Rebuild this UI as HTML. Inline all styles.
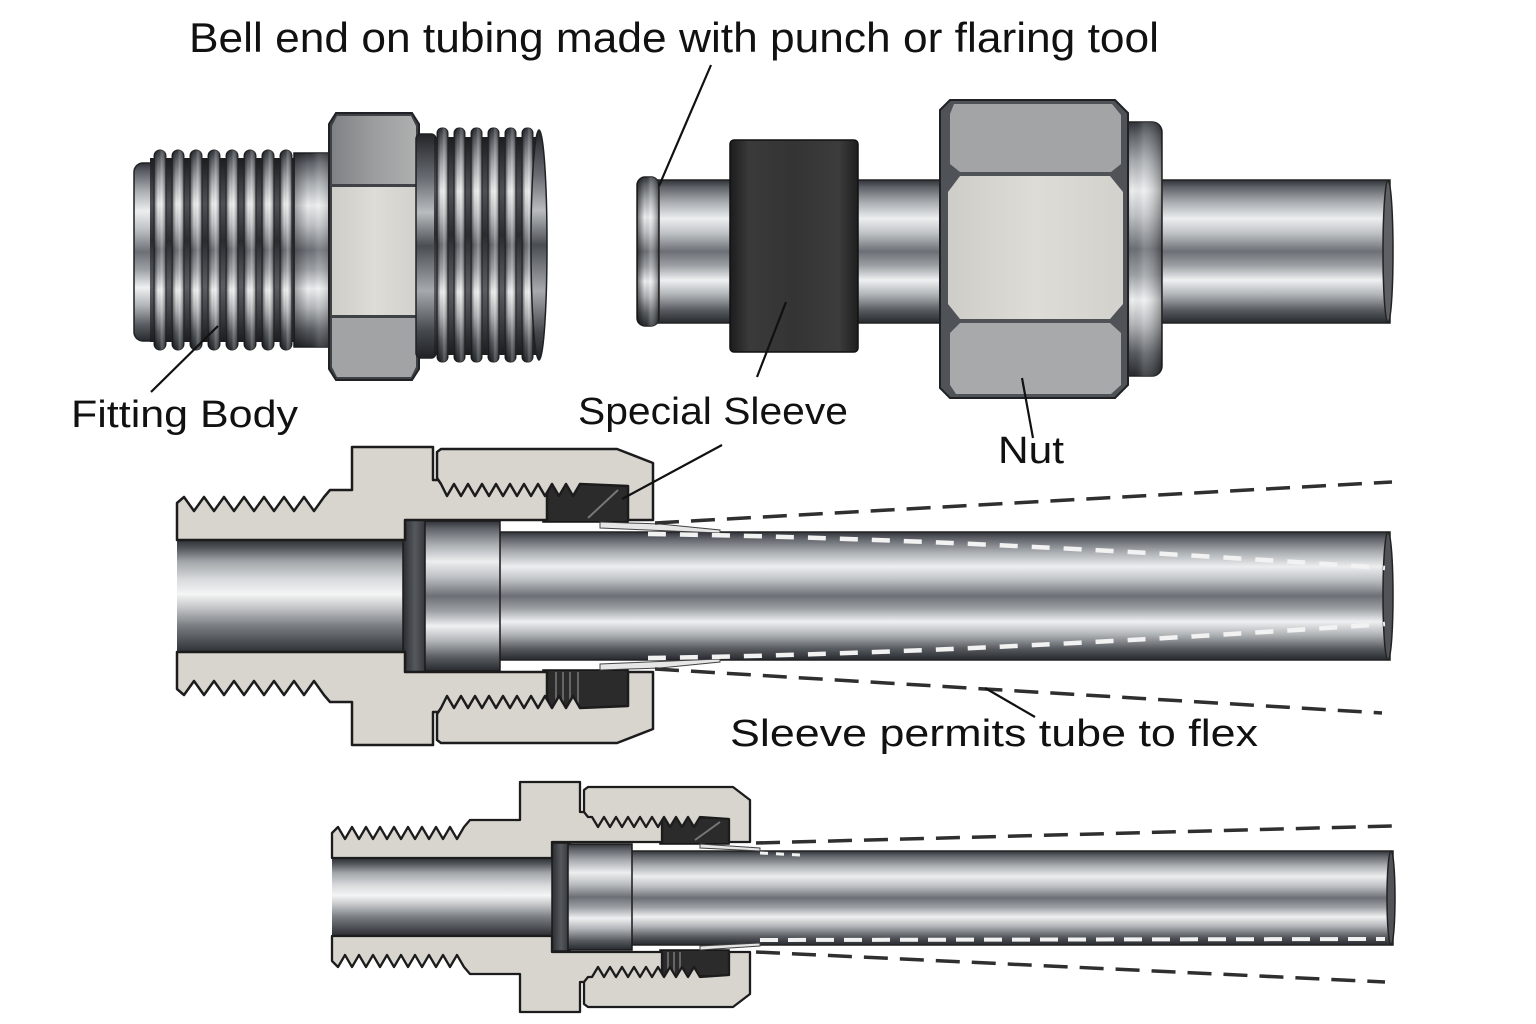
<!DOCTYPE html>
<html>
<head>
<meta charset="utf-8">
<style>
html,body{margin:0;padding:0;background:#fff;}
svg{display:block;}
text{font-family:"Liberation Sans",Arial,sans-serif;fill:#111;}
</style>
</head>
<body>
<svg width="1536" height="1024" viewBox="0 0 1536 1024" xmlns="http://www.w3.org/2000/svg">
<defs>
  <linearGradient id="cyl" x1="0" y1="0" x2="0" y2="1">
    <stop offset="0" stop-color="#2f3237"/>
    <stop offset="0.05" stop-color="#5e6268"/>
    <stop offset="0.15" stop-color="#a5a9ad"/>
    <stop offset="0.27" stop-color="#eceeef"/>
    <stop offset="0.37" stop-color="#c0c3c6"/>
    <stop offset="0.5" stop-color="#6c7076"/>
    <stop offset="0.6" stop-color="#9da1a5"/>
    <stop offset="0.7" stop-color="#eef0f1"/>
    <stop offset="0.8" stop-color="#b2b5b8"/>
    <stop offset="0.91" stop-color="#585c61"/>
    <stop offset="1" stop-color="#26292d"/>
  </linearGradient>
  <linearGradient id="cylD" x1="0" y1="0" x2="0" y2="1">
    <stop offset="0" stop-color="#222428"/>
    <stop offset="0.2" stop-color="#6a6e74"/>
    <stop offset="0.35" stop-color="#b9bcbf"/>
    <stop offset="0.5" stop-color="#4a4e53"/>
    <stop offset="0.7" stop-color="#a6a9ad"/>
    <stop offset="0.88" stop-color="#45494e"/>
    <stop offset="1" stop-color="#1f2125"/>
  </linearGradient>
  <linearGradient id="groove" x1="0" y1="0" x2="0" y2="1">
    <stop offset="0" stop-color="#1b1d20"/>
    <stop offset="0.25" stop-color="#4d5156"/>
    <stop offset="0.45" stop-color="#2a2c30"/>
    <stop offset="0.7" stop-color="#5a5e63"/>
    <stop offset="1" stop-color="#1b1d20"/>
  </linearGradient>
  <linearGradient id="crestH" x1="0" y1="0" x2="1" y2="0">
    <stop offset="0" stop-color="#000" stop-opacity="0.55"/>
    <stop offset="0.35" stop-color="#000" stop-opacity="0"/>
    <stop offset="0.6" stop-color="#fff" stop-opacity="0.2"/>
    <stop offset="1" stop-color="#000" stop-opacity="0.5"/>
  </linearGradient>
  <linearGradient id="bore" x1="0" y1="0" x2="0" y2="1">
    <stop offset="0" stop-color="#25282c"/>
    <stop offset="0.08" stop-color="#4f5358"/>
    <stop offset="0.2" stop-color="#a2a6aa"/>
    <stop offset="0.35" stop-color="#d7d9db"/>
    <stop offset="0.48" stop-color="#f4f5f5"/>
    <stop offset="0.6" stop-color="#c2c4c6"/>
    <stop offset="0.75" stop-color="#7a7e83"/>
    <stop offset="0.9" stop-color="#474b50"/>
    <stop offset="1" stop-color="#25282c"/>
  </linearGradient>
  <linearGradient id="sleeveG" x1="0" y1="0" x2="1" y2="0">
    <stop offset="0" stop-color="#1c1c1d"/>
    <stop offset="0.15" stop-color="#3a3a3b"/>
    <stop offset="0.5" stop-color="#343435"/>
    <stop offset="0.85" stop-color="#3c3c3d"/>
    <stop offset="1" stop-color="#1e1e1f"/>
  </linearGradient>
  <linearGradient id="hexTop" x1="0" y1="0" x2="1" y2="0">
    <stop offset="0" stop-color="#7f8285"/>
    <stop offset="0.5" stop-color="#9c9d9e"/>
    <stop offset="1" stop-color="#aeafaf"/>
  </linearGradient>
  <linearGradient id="hexMid" x1="0" y1="0" x2="1" y2="0">
    <stop offset="0" stop-color="#cfcdc8"/>
    <stop offset="0.5" stop-color="#dedcd7"/>
    <stop offset="1" stop-color="#d3d1cc"/>
  </linearGradient>
  <linearGradient id="bevel" x1="0" y1="0" x2="1" y2="0">
    <stop offset="0" stop-color="#2a2c30"/>
    <stop offset="0.5" stop-color="#55595e"/>
    <stop offset="1" stop-color="#2e3034"/>
  </linearGradient>
</defs>

<rect width="1536" height="1024" fill="#fff"/>

<!-- ============ TOP LEFT: FITTING BODY ============ -->
<g>
  <rect x="134" y="163" width="26" height="178" rx="9" fill="url(#cyl)" stroke="#1f2124" stroke-width="1.5"/>
  <rect x="150" y="158" width="148" height="184" fill="url(#groove)"/>
  <g stroke="#202226" stroke-width="1">
    <rect x="154" y="150" width="12" height="200" rx="6" fill="url(#cyl)"/>
    <rect x="172" y="150" width="12" height="200" rx="6" fill="url(#cyl)"/>
    <rect x="190" y="150" width="12" height="200" rx="6" fill="url(#cyl)"/>
    <rect x="208" y="150" width="12" height="200" rx="6" fill="url(#cyl)"/>
    <rect x="226" y="150" width="12" height="200" rx="6" fill="url(#cyl)"/>
    <rect x="244" y="150" width="12" height="200" rx="6" fill="url(#cyl)"/>
    <rect x="262" y="150" width="12" height="200" rx="6" fill="url(#cyl)"/>
    <rect x="280" y="150" width="12" height="200" rx="6" fill="url(#cyl)"/>
  </g>
  <g fill="url(#crestH)">
    <rect x="154" y="150" width="12" height="200" rx="6"/>
    <rect x="172" y="150" width="12" height="200" rx="6"/>
    <rect x="190" y="150" width="12" height="200" rx="6"/>
    <rect x="208" y="150" width="12" height="200" rx="6"/>
    <rect x="226" y="150" width="12" height="200" rx="6"/>
    <rect x="244" y="150" width="12" height="200" rx="6"/>
    <rect x="262" y="150" width="12" height="200" rx="6"/>
    <rect x="280" y="150" width="12" height="200" rx="6"/>
  </g>
  <rect x="294" y="153" width="40" height="194" fill="url(#cyl)" stroke="#1f2124" stroke-width="1.5"/>
  <rect x="294" y="153" width="40" height="194" fill="url(#crestH)" opacity="0.6"/>
  <!-- hex -->
  <polygon points="336,113 412,113 419,124 419,369 412,380 336,380 329,369 329,124" fill="#3e4145" stroke="#1f2124" stroke-width="2"/>
  <polygon points="337,116 411,116 416,126 416,184 332,184 332,126" fill="url(#hexTop)"/>
  <rect x="332" y="187" width="84" height="128" fill="url(#hexMid)"/>
  <polygon points="332,318 416,318 416,367 411,377 337,377 332,367" fill="#a2a3a4"/>
  <!-- right threads -->
  <rect x="416" y="134" width="20" height="224" rx="5" fill="url(#cylD)" stroke="#1f2124" stroke-width="1.5"/>
  <rect x="434" y="137" width="106" height="218" fill="url(#groove)"/>
  <g stroke="#202226" stroke-width="1">
    <rect x="437" y="128" width="11" height="234" rx="5" fill="url(#cyl)"/>
    <rect x="454" y="128" width="11" height="234" rx="5" fill="url(#cyl)"/>
    <rect x="471" y="128" width="11" height="234" rx="5" fill="url(#cyl)"/>
    <rect x="488" y="128" width="11" height="234" rx="5" fill="url(#cyl)"/>
    <rect x="505" y="128" width="11" height="234" rx="5" fill="url(#cyl)"/>
    <rect x="522" y="128" width="11" height="234" rx="5" fill="url(#cyl)"/>
  </g>
  <g fill="url(#crestH)">
    <rect x="437" y="128" width="11" height="234" rx="5"/>
    <rect x="454" y="128" width="11" height="234" rx="5"/>
    <rect x="471" y="128" width="11" height="234" rx="5"/>
    <rect x="488" y="128" width="11" height="234" rx="5"/>
    <rect x="505" y="128" width="11" height="234" rx="5"/>
    <rect x="522" y="128" width="11" height="234" rx="5"/>
  </g>
  <ellipse cx="539" cy="245" rx="8" ry="115" fill="url(#cylD)" stroke="#1f2124" stroke-width="1.5"/>
</g>

<!-- ============ TOP RIGHT: TUBE + SLEEVE + NUT ============ -->
<g>
  <rect x="652" y="180" width="738" height="143" fill="url(#cyl)" stroke="#222" stroke-width="1.5"/>
  <ellipse cx="1388" cy="251.5" rx="5" ry="71" fill="#5d6166" stroke="#222" stroke-width="1.5"/>
  <rect x="637" y="177" width="22" height="149" rx="8" fill="url(#cyl)" stroke="#222" stroke-width="1.5"/>
  <rect x="637" y="177" width="22" height="149" rx="8" fill="url(#crestH)"/>
  <rect x="730" y="140" width="128" height="212" rx="4" fill="url(#sleeveG)" stroke="#111" stroke-width="1.5"/>
  <rect x="1116" y="122" width="46" height="254" rx="10" fill="url(#cyl)" stroke="#222" stroke-width="1.5"/>
  <rect x="1116" y="122" width="46" height="254" rx="10" fill="url(#crestH)" opacity="0.7"/>
  <!-- nut -->
  <polygon points="940,110 950,100 1115,100 1128,113 1128,385 1115,398 950,398 940,388" fill="#4f5256" stroke="#1f2124" stroke-width="2"/>
  <polygon points="954,104 1112,104 1121,115 1121,164 1111,172 960,172 950,164 950,114" fill="#a3a4a5"/>
  <polygon points="960,176 1110,176 1123,192 1123,304 1110,319 960,319 948,304 948,192" fill="url(#hexMid)"/>
  <polygon points="960,323 1110,323 1121,333 1121,385 1111,394 956,394 950,385 950,333" fill="#a8a9aa"/>
</g>

<!-- ============ MIDDLE CROSS SECTION ============ -->
<g>
  <rect x="177" y="538" width="232" height="117" fill="url(#bore)"/>
  <rect x="498" y="532" width="892" height="128" fill="url(#cyl)" stroke="#222" stroke-width="1.5"/>
  <ellipse cx="1388" cy="596" rx="5" ry="64" fill="#505459" stroke="#222" stroke-width="1.5"/>
  <!-- bell ring -->
  <rect x="403" y="520" width="24" height="152" fill="url(#bevel)" stroke="#1a1a1a" stroke-width="1.5"/>
  <rect x="425" y="521" width="75" height="150" fill="url(#cyl)" stroke="#1a1a1a" stroke-width="1.5"/>
  <!-- sleeves -->
  <rect x="543" y="484" width="85" height="38" fill="#2b2b2c" stroke="#111" stroke-width="1.5"/>
  <line x1="588" y1="518" x2="618" y2="490" stroke="#777" stroke-width="2"/>
  <rect x="543" y="670" width="85" height="38" fill="#2b2b2c" stroke="#111" stroke-width="1.5"/>
  <g stroke="#666" stroke-width="2">
    <line x1="556" y1="672" x2="556" y2="706"/>
    <line x1="563" y1="672" x2="563" y2="706"/>
    <line x1="570" y1="672" x2="570" y2="706"/>
    <line x1="578" y1="672" x2="578" y2="706"/>
  </g>
  <!-- thin sleeve tails -->
  <polygon points="600,522 660,524 720,530 720,533 600,528" fill="#e6e6e6" stroke="#444" stroke-width="1"/>
  <polygon points="600,670 660,668 720,662 720,659 600,664" fill="#e6e6e6" stroke="#444" stroke-width="1"/>
  <!-- body -->
  <path id="bodyU" d="M177,540 L177,503 L184,497 L194,511 L204,497 L214,511 L224,497 L234,511 L244,497 L254,511 L264,497 L274,511 L284,497 L294,511 L304,497 L314,511 L324,497 L330,490 L352,490 L352,447 L433,447 L433,480 L547,480 L547,520 L405,520 L405,540 Z" fill="#d8d5cf" stroke="#1c1c1c" stroke-width="2.5" stroke-linejoin="round"/>
  <use href="#bodyU" transform="matrix(1 0 0 -1 0 1192)"/>
  <!-- nut -->
  <path id="nutU" d="M437,478 L437,452 L441,449 L617,449 L653,463 L653,520 L628,520 L628,486 L580,484 L573,496 L566,484 L559,496 L552,484 L545,496 L538,484 L531,496 L524,484 L517,496 L510,484 L503,496 L496,484 L489,496 L482,484 L475,496 L468,484 L461,496 L454,484 L447,496 L441,484 Z" fill="#d8d5cf" stroke="#1c1c1c" stroke-width="2.5" stroke-linejoin="round"/>
  <use href="#nutU" transform="matrix(1 0 0 -1 0 1192)"/>
  <!-- dashed lines -->
  <path d="M655,523 L1392,482" stroke="#2f2f2f" stroke-width="3.5" stroke-dasharray="24 12" fill="none"/>
  <path d="M655,669 L1382,713" stroke="#2f2f2f" stroke-width="3.5" stroke-dasharray="24 12" fill="none"/>
  <path d="M648,534 Q950,538 1385,568" stroke="#f2f2f2" stroke-width="4.5" stroke-dasharray="18 14" fill="none"/>
  <path d="M648,658 Q950,654 1385,624" stroke="#f2f2f2" stroke-width="4.5" stroke-dasharray="18 14" fill="none"/>
</g>

<!-- ============ BOTTOM CROSS SECTION ============ -->
<g>
  <rect x="332" y="857" width="222" height="80" fill="url(#bore)"/>
  <rect x="630" y="851" width="763" height="94" fill="url(#cyl)" stroke="#222" stroke-width="1.5"/>
  <ellipse cx="1391" cy="898" rx="4" ry="47" fill="#505459" stroke="#222" stroke-width="1.5"/>
  <rect x="552" y="843" width="18" height="108" fill="url(#bevel)" stroke="#1a1a1a" stroke-width="1.5"/>
  <rect x="568" y="844" width="64" height="106" fill="url(#cyl)" stroke="#1a1a1a" stroke-width="1.5"/>
  <rect x="660" y="818" width="69" height="26" fill="#2b2b2c" stroke="#111" stroke-width="1.5"/>
  <line x1="695" y1="840" x2="720" y2="822" stroke="#777" stroke-width="2"/>
  <rect x="660" y="950" width="69" height="26" fill="#2b2b2c" stroke="#111" stroke-width="1.5"/>
  <g stroke="#666" stroke-width="2">
    <line x1="668" y1="952" x2="668" y2="974"/>
    <line x1="674" y1="952" x2="674" y2="974"/>
    <line x1="680" y1="952" x2="680" y2="974"/>
  </g>
  <polygon points="700,844 760,848 760,851 700,848" fill="#e6e6e6" stroke="#444" stroke-width="1"/>
  <polygon points="700,950 760,946 760,943 700,946" fill="#e6e6e6" stroke="#444" stroke-width="1"/>
  <path id="bodyB" d="M332,858 L332,833 L338,827 L345,839 L352,827 L359,839 L366,827 L373,839 L380,827 L387,839 L394,827 L401,839 L408,827 L415,839 L422,827 L429,839 L436,827 L443,839 L450,827 L457,839 L464,827 L470,820 L520,820 L520,782 L580,782 L580,812 L662,812 L662,842 L552,842 L552,858 Z" fill="#d8d5cf" stroke="#1c1c1c" stroke-width="2.3" stroke-linejoin="round"/>
  <use href="#bodyB" transform="matrix(1 0 0 -1 0 1794)"/>
  <path id="nutB" d="M584,812 L584,790 L588,787 L733,787 L750,800 L750,842 L729,842 L729,819 L700,817 L694,827 L688,817 L682,827 L676,817 L670,827 L664,817 L658,827 L652,817 L646,827 L640,817 L634,827 L628,817 L622,827 L616,817 L610,827 L604,817 L598,827 L592,817 L588,817 Z" fill="#d8d5cf" stroke="#1c1c1c" stroke-width="2.3" stroke-linejoin="round"/>
  <use href="#nutB" transform="matrix(1 0 0 -1 0 1794)"/>
  <path d="M756,843 L1392,826" stroke="#2f2f2f" stroke-width="3.5" stroke-dasharray="24 12" fill="none"/>
  <path d="M756,952 L1385,982" stroke="#2f2f2f" stroke-width="3.5" stroke-dasharray="24 12" fill="none"/>
  <path d="M760,940 L1385,939" stroke="#f2f2f2" stroke-width="4" stroke-dasharray="18 10" fill="none"/>
  <path d="M760,853 L800,855" stroke="#f2f2f2" stroke-width="3" stroke-dasharray="8 8" fill="none"/>
</g>

<!-- ============ LEADERS ============ -->
<g stroke="#111" stroke-width="2.2" fill="none">
  <line x1="711" y1="65" x2="659" y2="186"/>
  <line x1="151" y1="392" x2="218" y2="326"/>
  <line x1="757" y1="377" x2="786" y2="302"/>
  <line x1="1033" y1="438" x2="1022" y2="378"/>
  <line x1="722" y1="445" x2="622" y2="499"/>
  <line x1="1035" y1="717" x2="985" y2="688"/>
</g>

<!-- ============ TEXT ============ -->
<text x="189" y="52" font-size="42" textLength="970" lengthAdjust="spacingAndGlyphs">Bell end on tubing made with punch or flaring tool</text>
<text x="71" y="427" font-size="38" textLength="227" lengthAdjust="spacingAndGlyphs">Fitting Body</text>
<text x="578" y="424" font-size="38" textLength="270" lengthAdjust="spacingAndGlyphs">Special Sleeve</text>
<text x="998" y="463" font-size="38" textLength="66" lengthAdjust="spacingAndGlyphs">Nut</text>
<text x="730" y="746" font-size="38" textLength="528" lengthAdjust="spacingAndGlyphs">Sleeve permits tube to flex</text>
</svg>
</body>
</html>
